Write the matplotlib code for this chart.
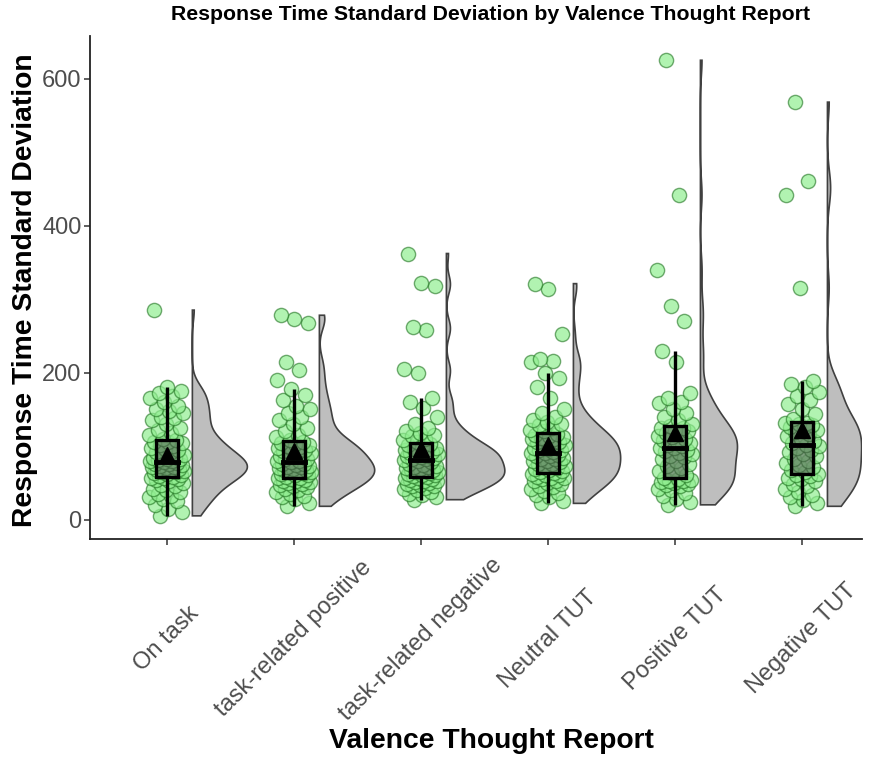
import numpy as np
import matplotlib
matplotlib.use('Agg')
import matplotlib.pyplot as plt
from matplotlib.patches import Polygon, Rectangle

plt.rcParams['font.family'] = ['Liberation Sans', 'DejaVu Sans']

categories = ['On task', 'task-related positive', 'task-related negative',
              'Neutral TUT', 'Positive TUT', 'Negative TUT']

# values (response time SD per participant)
on_task = [5, 10, 15, 20, 25, 28, 30, 32, 35, 38, 40, 42, 45, 47, 50, 52, 54, 55, 56, 57,
           58, 59, 60, 62, 63, 64, 65, 66, 67, 68, 69, 70, 71, 72, 73, 74, 75, 76, 77, 78,
           79, 80, 81, 82, 83, 84, 85, 86, 88, 90, 92, 94, 96, 98, 100, 102, 104, 105, 106, 108,
           110, 115, 118, 122, 125, 130, 135, 138, 140, 145, 148, 150, 155, 160, 165, 168, 172, 175, 180, 285]
task_pos = [18, 22, 28, 30, 32, 35, 38, 40, 42, 44, 45, 47, 48, 50, 51, 52, 53, 54, 55, 56,
            57, 58, 60, 61, 62, 63, 64, 65, 66, 67, 68, 69, 70, 71, 72, 73, 74, 75, 76, 78,
            79, 80, 82, 83, 85, 86, 88, 89, 90, 92, 93, 95, 96, 98, 99, 100, 102, 103, 104, 106,
            108, 112, 115, 120, 125, 130, 135, 140, 145, 150, 155, 162, 170, 178, 190, 203, 214, 268, 273, 278]
task_neg = [27, 30, 33, 35, 38, 40, 42, 43, 45, 46, 47, 48, 50, 51, 52, 53, 54, 55, 56, 57,
            58, 59, 60, 61, 62, 63, 64, 65, 66, 67, 68, 69, 70, 71, 72, 73, 74, 76, 78, 80,
            81, 82, 83, 84, 85, 86, 87, 88, 89, 90, 91, 92, 93, 94, 95, 96, 98, 99, 101, 103,
            105, 108, 110, 113, 115, 118, 120, 125, 130, 140, 152, 160, 166, 200, 205, 258, 262, 318, 322, 362]
neutral_tut = [22, 25, 30, 33, 36, 39, 42, 44, 46, 48, 50, 52, 53, 55, 56, 57, 58, 60, 61, 62,
               63, 64, 66, 67, 69, 70, 72, 73, 75, 76, 78, 79, 80, 82, 83, 84, 86, 87, 88, 90,
               91, 92, 94, 95, 96, 98, 99, 100, 102, 103, 105, 106, 108, 109, 110, 111, 112, 114, 115, 117,
               120, 122, 125, 128, 130, 133, 136, 140, 145, 150, 165, 180, 192, 200, 214, 216, 218, 252, 314, 321]
positive_tut = [20, 24, 28, 32, 36, 40, 42, 45, 47, 49, 50, 51, 52, 53, 54, 55,
                57, 60, 63, 66, 70, 73, 76, 79, 82, 85, 87, 89, 91, 93, 95, 97,
                98, 100, 102, 104, 106, 108, 110, 112, 114, 116, 118, 120, 122, 124, 125, 127,
                130, 135, 140, 145, 150, 158, 160, 165, 172, 215, 230, 270, 290, 340, 442, 625]
negative_tut = [18, 22, 26, 30, 34, 38, 42, 46, 49, 52, 55, 57, 59, 60,
                62, 65, 68, 71, 74, 77, 80, 83, 86, 89, 92, 95, 98, 100,
                102, 104, 107, 110, 113, 116, 119, 122, 124, 126, 128, 130, 131, 132,
                137, 143, 150, 157, 163, 168, 174, 180, 185, 189, 315, 442, 460, 568]

groups = [on_task, task_pos, task_neg, neutral_tut, positive_tut, negative_tut]


def kde(vals, grid):
    v = np.asarray(vals, float)
    n = len(v)
    q75, q25 = np.percentile(v, [75, 25])
    bw = 0.9 * min(v.std(ddof=1), (q75 - q25) / 1.34) * n ** -0.2
    d = np.exp(-0.5 * ((grid[:, None] - v[None, :]) / bw) ** 2).sum(axis=1)
    return d / (n * bw * np.sqrt(2 * np.pi))


fig = plt.figure(figsize=(8.78, 7.61), dpi=100)
ax = fig.add_axes([90 / 878, 1 - 539 / 761, 772 / 878, 503 / 761])

# half violins (equal area scaling)
dens_all = []
for vals in groups:
    grid = np.linspace(min(vals), max(vals), 512)
    dens_all.append((grid, kde(vals, grid)))
dmax = max(d.max() for g, d in dens_all)

for i, (grid, d) in enumerate(dens_all):
    x0 = i + 1 + 0.2
    xs = np.concatenate([[x0], x0 + 0.46 * d / dmax, [x0]])
    ys = np.concatenate([[grid[0]], grid, [grid[-1]]])
    ax.add_patch(Polygon(np.column_stack([xs, ys]), closed=True, facecolor='#BEBEBE',
                         edgecolor='#404040', linewidth=1.2, zorder=1))

# jittered points
for i, vals in enumerate(groups):
    k = np.arange(len(vals))
    off = ((k * 0.618034 + 0.3) % 1 - 0.5) * 0.28
    ax.scatter(i + 1 + off, vals, s=105, facecolor=(0.565, 0.933, 0.565, 0.7),
               edgecolor=(0.12, 0.45, 0.12, 0.6), linewidth=1, zorder=2)

# boxplots + means
for i, vals in enumerate(groups):
    v = np.asarray(vals, float)
    q1, med, q3 = np.percentile(v, [25, 50, 75])
    iqr = q3 - q1
    lo = v[v >= q1 - 1.5 * iqr].min()
    hi = v[v <= q3 + 1.5 * iqr].max()
    x = i + 1
    w = 0.17
    ax.plot([x, x], [q3, hi], color='black', lw=2.4, zorder=3, solid_capstyle='butt')
    ax.plot([x, x], [lo, q1], color='black', lw=2.4, zorder=3, solid_capstyle='butt')
    ax.add_patch(Rectangle((x - w / 2, q1), w, q3 - q1, facecolor=(0.3, 0.3, 0.3, 0.5),
                           edgecolor='black', linewidth=2.4, zorder=3))
    ax.plot([x - w / 2, x + w / 2], [med, med], color='black', lw=3.5, zorder=3)
    ax.plot(x, v.mean(), marker='^', markersize=12, color='black', zorder=4)

ax.set_xlim(0.394, 6.472)
ax.set_ylim(-26.5, 658)
ax.set_yticks([0, 200, 400, 600])
ax.set_xticks(range(1, 7))
ax.set_xticklabels(categories, rotation=45, ha='center', va='center', rotation_mode='anchor')
for s in ['top', 'right']:
    ax.spines[s].set_visible(False)
for s in ['left', 'bottom']:
    ax.spines[s].set_linewidth(1.3)
    ax.spines[s].set_color('#222222')
ax.tick_params(axis='both', length=4, width=1.1, color='#333333', labelsize=17, labelcolor='#4D4D4D')
ax.tick_params(axis='x', pad=68)
ax.tick_params(axis='y', pad=2)

fig.text(491 / 878, 1 - 15 / 761, 'Response Time Standard Deviation by Valence Thought Report',
         ha='center', va='center', fontsize=15.3, fontweight='bold')
fig.text(491 / 878, 1 - 741 / 761, 'Valence Thought Report', ha='center', va='center',
         fontsize=20.3, fontweight='bold')
fig.text(25 / 878, 1 - 290 / 761, 'Response Time Standard Deviation', ha='center', va='center',
         rotation=90, fontsize=20.3, fontweight='bold')

fig.savefig('out.png', dpi=100)
